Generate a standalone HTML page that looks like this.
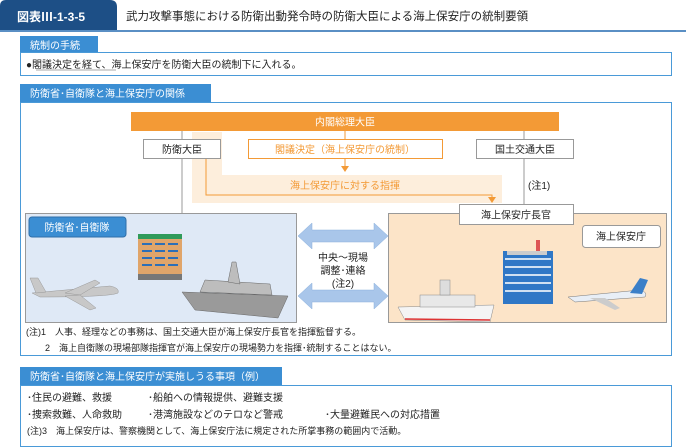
<!DOCTYPE html>
<html><head><meta charset="utf-8"><style>
html,body{margin:0;padding:0;background:#fff;}
svg{display:block;font-family:"Liberation Sans","Noto Sans CJK JP",sans-serif;}
</style></head><body>
<svg width="686" height="448" viewBox="0 0 686 448" xmlns="http://www.w3.org/2000/svg">
<rect width="686" height="448" fill="#fff"/>
<path d="M0 31 L0 6 Q0 0 6 0 L110 0 Q117 0 117 7 L117 31 Z" fill="#1d4f86"/>
<text x="17" y="21" font-size="12" fill="#fff" font-weight="bold">図表Ⅲ-1-3-5</text>
<text x="126" y="20" font-size="11.5" fill="#222">武力攻撃事態における防衛出動発令時の防衛大臣による海上保安庁の統制要領</text>
<rect x="0" y="30" width="686" height="2" fill="#5a8fc4"/>

<rect x="20" y="36" width="78" height="17" fill="#3b8ed3"/>
<text x="30" y="49" font-size="10" fill="#fff">統制の手続</text>
<rect x="20.5" y="52.5" width="651" height="23" fill="#fff" stroke="#4a9ad8"/>
<text x="26" y="68" font-size="10" fill="#222">●閣議決定を経て、海上保安庁を防衛大臣の統制下に入れる。</text>
<line x1="36" y1="70" x2="116" y2="70" stroke="#555" stroke-width="0.6"/>

<rect x="20" y="84" width="191" height="18" fill="#3b8ed3"/>
<text x="30" y="97" font-size="10" fill="#fff">防衛省･自衛隊と海上保安庁の関係</text>
<rect x="20.5" y="102.5" width="651" height="253" fill="#fff" stroke="#4a9ad8"/>

<path d="M192 132 L222 132 L222 175 L502 175 L502 203 L192 203 Z" fill="#fdeedc"/>
<rect x="131" y="112" width="428" height="19" fill="#f39a36"/>
<text x="345" y="125.5" font-size="10" fill="#fff" text-anchor="middle">内閣総理大臣</text>

<line x1="182" y1="131" x2="182" y2="213" stroke="#999" stroke-width="1"/>
<line x1="524" y1="131" x2="524" y2="204" stroke="#999" stroke-width="1"/>
<line x1="345" y1="131" x2="345" y2="139" stroke="#f39a36" stroke-width="1"/>

<rect x="143.5" y="139.5" width="77" height="19" fill="#fff" stroke="#999"/>
<text x="182" y="153" font-size="10" fill="#222" text-anchor="middle">防衛大臣</text>
<rect x="248.5" y="139.5" width="194" height="19" fill="#fff" stroke="#f39a36"/>
<text x="345" y="153" font-size="10" fill="#f39a36" text-anchor="middle">閣議決定（海上保安庁の統制）</text>
<rect x="476.5" y="139.5" width="97" height="19" fill="#fff" stroke="#999"/>
<text x="525" y="153" font-size="10" fill="#222" text-anchor="middle">国土交通大臣</text>

<line x1="345" y1="159" x2="345" y2="167" stroke="#f39a36" stroke-width="1"/>
<path d="M341 166 L349 166 L345 172 Z" fill="#f39a36"/>
<text x="345" y="189" font-size="10" fill="#f39a36" text-anchor="middle">海上保安庁に対する指揮</text>
<path d="M206 159 L206 195 L492 195 L492 198" fill="none" stroke="#f39a36" stroke-width="1"/>
<path d="M488 197 L496 197 L492 203 Z" fill="#f39a36"/>
<text x="528" y="189" font-size="10" fill="#222">(注1)</text>

<rect x="25.5" y="213.5" width="271" height="109" fill="#dfe9f6" stroke="#999"/>
<rect x="29" y="217" width="97" height="20" rx="3" fill="#3b8ed3" stroke="#2f6fa8"/>
<text x="77" y="231" font-size="10" fill="#fff" text-anchor="middle">防衛省･自衛隊</text>
<rect x="138" y="234" width="44" height="46" fill="#e0a56a"/>
<rect x="138" y="234" width="44" height="5" fill="#2f9a5a"/>
<rect x="138" y="274" width="44" height="6" fill="#777"/>
<g fill="#2c6fb7">
<rect x="142" y="243" width="10" height="2"/><rect x="155" y="243" width="10" height="2"/><rect x="168" y="243" width="10" height="2"/>
<rect x="142" y="250" width="10" height="2"/><rect x="155" y="250" width="10" height="2"/><rect x="168" y="250" width="10" height="2"/>
<rect x="142" y="257" width="10" height="2"/><rect x="155" y="257" width="10" height="2"/><rect x="168" y="257" width="10" height="2"/>
<rect x="142" y="264" width="10" height="2"/><rect x="155" y="264" width="10" height="2"/><rect x="168" y="264" width="10" height="2"/>
</g>
<g fill="#c8c8c8" stroke="#999" stroke-width="0.5">
<path d="M32 293 L110 286 Q120 288 118 293 Q110 297 40 297 Z"/>
<path d="M65 293 L95 280 L100 283 L80 295 Z"/>
<path d="M65 296 L90 310 L96 308 L80 295 Z"/>
<path d="M36 293 L30 278 L38 278 L46 292 Z"/>
</g>
<g fill="#bdbdbd" stroke="#666" stroke-width="0.5">
<path d="M182 292 L288 296 L278 318 L195 310 Z" fill="#9a9a9a"/>
<path d="M200 292 L205 280 L270 284 L272 295 Z"/>
<path d="M228 282 L232 262 L236 262 L240 284 Z"/>
</g>

<rect x="388.5" y="213.5" width="278" height="109" fill="#fce4c8" stroke="#999"/>
<rect x="459.5" y="204.5" width="114" height="20" fill="#fff" stroke="#999"/>
<text x="516" y="218.5" font-size="10" fill="#222" text-anchor="middle">海上保安庁長官</text>
<rect x="582.5" y="225.5" width="78" height="22" rx="3" fill="#fff" stroke="#999"/>
<text x="621" y="240" font-size="10" fill="#222" text-anchor="middle">海上保安庁</text>
<rect x="503" y="251" width="50" height="53" fill="#2f77c6"/>
<g fill="#cfe0f2">
<rect x="505" y="258" width="46" height="2"/><rect x="505" y="266" width="46" height="2"/><rect x="505" y="274" width="46" height="2"/><rect x="505" y="282" width="46" height="2"/><rect x="505" y="290" width="46" height="2"/>
</g>
<rect x="507" y="251" width="40" height="4" fill="#ccc"/>
<rect x="536" y="240" width="4" height="11" fill="#d55"/>
<path d="M398 307 L494 305 L490 322 L405 320 Z" fill="#f4f4f4" stroke="#888" stroke-width="0.5"/>
<rect x="420" y="295" width="55" height="12" fill="#e8e8e8" stroke="#888" stroke-width="0.5"/>
<rect x="440" y="280" width="10" height="15" fill="#ddd" stroke="#888" stroke-width="0.5"/>
<line x1="405" y1="319" x2="490" y2="320" stroke="#d33" stroke-width="1.5"/>
<path d="M568 297 L640 290 Q648 292 645 297 L575 302 Z" fill="#e8eef6" stroke="#777" stroke-width="0.5"/>
<path d="M630 293 L640 278 L648 280 L642 294 Z" fill="#3b7fc8"/>
<path d="M590 298 L615 310 L620 308 L605 298 Z" fill="#ccc"/>

<g fill="#a9c6ea" stroke="#8ab0dd" stroke-width="0.5">
<path d="M298 236 L312 223 L312 230 L374 230 L374 223 L388 236 L374 249 L374 242 L312 242 L312 249 Z"/>
<path d="M298 296 L312 283 L312 290 L374 290 L374 283 L388 296 L374 309 L374 302 L312 302 L312 309 Z"/>
</g>
<text x="343" y="261" font-size="10" fill="#222" text-anchor="middle">中央～現場</text>
<text x="343" y="274" font-size="10" fill="#222" text-anchor="middle">調整･連絡</text>
<text x="343" y="287" font-size="10" fill="#222" text-anchor="middle">(注2)</text>

<text x="26" y="335" font-size="9" fill="#222">(注)1　人事、経理などの事務は、国土交通大臣が海上保安庁長官を指揮監督する。</text>
<text x="45" y="351" font-size="9" fill="#222">2　海上自衛隊の現場部隊指揮官が海上保安庁の現場勢力を指揮･統制することはない。</text>

<rect x="20" y="367" width="262" height="19" fill="#3b8ed3"/>
<text x="30" y="380" font-size="10" fill="#fff">防衛省･自衛隊と海上保安庁が実施しうる事項（例）</text>
<rect x="20.5" y="385.5" width="651" height="61" fill="#fff" stroke="#4a9ad8"/>
<text x="27" y="401" font-size="10" fill="#222">･住民の避難、救援</text>
<text x="148" y="401" font-size="10" fill="#222">･船舶への情報提供、避難支援</text>
<text x="27" y="418" font-size="10" fill="#222">･捜索救難、人命救助</text>
<text x="148" y="418" font-size="10" fill="#222">･港湾施設などのテロなど警戒</text>
<text x="325" y="418" font-size="10" fill="#222">･大量避難民への対応措置</text>
<text x="27" y="434" font-size="9" fill="#222">(注)3　海上保安庁は、警察機関として、海上保安庁法に規定された所掌事務の範囲内で活動。</text>
</svg>
</body></html>
